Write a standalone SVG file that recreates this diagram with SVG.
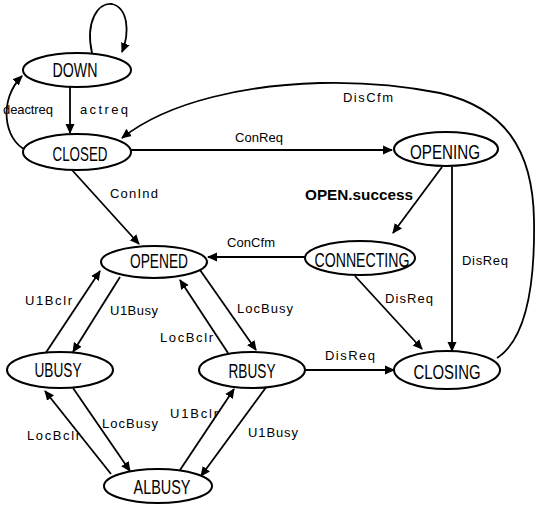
<svg xmlns="http://www.w3.org/2000/svg" width="537" height="505" viewBox="0 0 537 505">
<defs>
<marker id="arr" viewBox="0 0 10 10" refX="9" refY="5" markerWidth="10" markerHeight="10" markerUnits="userSpaceOnUse" orient="auto">
<path d="M0,0.5 L10,5 L0,9.5 Z" fill="#000"/>
</marker>
<style>
.node ellipse{fill:#fff;stroke:#000;stroke-width:2}
.node text{font-family:"Liberation Sans Narrow","Liberation Sans",Arial,sans-serif;font-size:21px;text-anchor:middle;fill:#000}
.edges path{fill:none;stroke:#000;stroke-width:1.8;marker-end:url(#arr)}
.lbl{font-family:"Liberation Sans","DejaVu Sans",sans-serif;font-size:13px;fill:#000}
</style>
</defs>
<rect width="537" height="505" fill="#fff"/>
<g class="edges">
<path d="M92,53 C85,22 98,2 112,4 C128,8 130,32 122,52"/>
<path d="M70,87 L70,133"/>
<path d="M26,150 C4,140 -2,100 22,76"/>
<path d="M497,358 C528,338 535,280 534,220 C533,150 505,108 440,93 C400,85 360,82 320,83 C250,85 170,100 122,138"/>
<path d="M131,150 L392,150"/>
<path d="M72,170 L139,244"/>
<path d="M442,167 L393,233"/>
<path d="M452,167 L452,351"/>
<path d="M305,257 L208,257"/>
<path d="M355,276 L422,349"/>
<path d="M305,370 L394,370"/>
<path d="M120,277 L73,352"/>
<path d="M45,354 L100,271"/>
<path d="M200,270 L256,350"/>
<path d="M228,353 L180,280"/>
<path d="M73,388 L130,471"/>
<path d="M111,474 L45,391"/>
<path d="M180,470 L234,389"/>
<path d="M267,386 L201,476"/>
</g>
<g id="labels">
<text class="lbl" x="3" y="114" textLength="50" lengthAdjust="spacing">deactreq</text>
<text class="lbl" x="80" y="114" textLength="48" lengthAdjust="spacing">actreq</text>
<text class="lbl" x="343" y="102" textLength="50" lengthAdjust="spacing">DisCfm</text>
<text class="lbl" x="235" y="142" textLength="48" lengthAdjust="spacing">ConReq</text>
<text class="lbl" x="110" y="198" textLength="48" lengthAdjust="spacing">ConInd</text>
<text class="lbl" x="305" y="200" textLength="108" lengthAdjust="spacingAndGlyphs" style="font-weight:bold;font-size:14px">OPEN.success</text>
<text class="lbl" x="462" y="265" textLength="46" lengthAdjust="spacing">DisReq</text>
<text class="lbl" x="227" y="247" textLength="48" lengthAdjust="spacing">ConCfm</text>
<text class="lbl" x="385" y="303" textLength="48" lengthAdjust="spacing">DisReq</text>
<text class="lbl" x="237" y="313" textLength="56" lengthAdjust="spacing">LocBusy</text>
<text class="lbl" x="325" y="360" textLength="50" lengthAdjust="spacing">DisReq</text>
<text class="lbl" x="25" y="305" textLength="47" lengthAdjust="spacing">U1Bclr</text>
<text class="lbl" x="110" y="315" textLength="48" lengthAdjust="spacing">U1Busy</text>
<text class="lbl" x="160" y="342" textLength="53" lengthAdjust="spacing">LocBclr</text>
<text class="lbl" x="102" y="428" textLength="56" lengthAdjust="spacing">LocBusy</text>
<text class="lbl" x="27" y="440" textLength="53" lengthAdjust="spacing">LocBclr</text>
<text class="lbl" x="170" y="418" textLength="48" lengthAdjust="spacing">U1Bclr</text>
<text class="lbl" x="248" y="437" textLength="50" lengthAdjust="spacing">U1Busy</text>
</g>
<g id="DOWN" class="node"><ellipse cx="77" cy="70" rx="54" ry="17"/><text x="75" y="77" textLength="45" lengthAdjust="spacingAndGlyphs">DOWN</text></g>
<g id="CLOSED" class="node"><ellipse cx="77" cy="152" rx="54" ry="18"/><text x="80" y="161" textLength="55" lengthAdjust="spacingAndGlyphs">CLOSED</text></g>
<g id="OPENING" class="node"><ellipse cx="446" cy="149" rx="52" ry="17"/><text x="445" y="159" textLength="70" lengthAdjust="spacingAndGlyphs">OPENING</text></g>
<g id="CONNECTING" class="node"><ellipse cx="360" cy="258" rx="55" ry="17"/><text x="362" y="267" textLength="95" lengthAdjust="spacingAndGlyphs">CONNECTING</text></g>
<g id="OPENED" class="node"><ellipse cx="154" cy="262" rx="53" ry="16"/><text x="159" y="268" textLength="58" lengthAdjust="spacingAndGlyphs">OPENED</text></g>
<g id="UBUSY" class="node"><ellipse cx="60" cy="370" rx="53" ry="18"/><text x="58" y="377" textLength="47" lengthAdjust="spacingAndGlyphs">UBUSY</text></g>
<g id="RBUSY" class="node"><ellipse cx="252" cy="370" rx="53" ry="18"/><text x="252" y="378" textLength="47" lengthAdjust="spacingAndGlyphs">RBUSY</text></g>
<g id="CLOSING" class="node"><ellipse cx="447" cy="370" rx="53" ry="19"/><text x="447" y="379" textLength="67" lengthAdjust="spacingAndGlyphs">CLOSING</text></g>
<g id="ALBUSY" class="node"><ellipse cx="158" cy="486" rx="54" ry="17"/><text x="162" y="494" textLength="57" lengthAdjust="spacingAndGlyphs">ALBUSY</text></g>
</svg>
